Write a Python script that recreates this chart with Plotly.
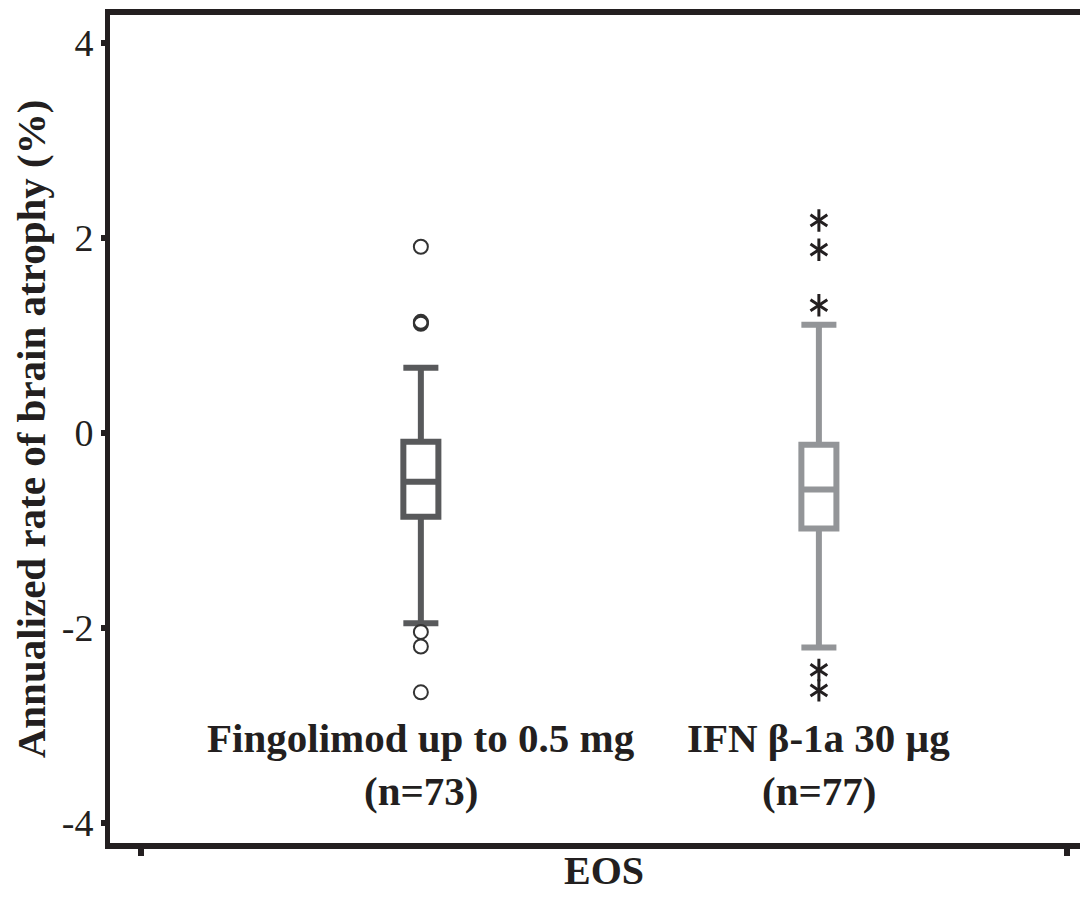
import plotly.graph_objects as go

# ---- data ----
categories = ["Fingolimod up to 0.5 mg", "IFN β-1a 30 µg"]
n_labels = ["(n=73)", "(n=77)"]

fingo_q1 = [-0.86]
fingo_median = [-0.50]
fingo_q3 = [-0.09]
fingo_lower = [-1.95]
fingo_upper = [0.67]
fingo_outliers = [1.91, 1.12, 1.13, 1.14, -2.04, -2.19, -2.66]

ifn_q1 = [-0.98]
ifn_median = [-0.58]
ifn_q3 = [-0.12]
ifn_lower = [-2.20]
ifn_upper = [1.11]
ifn_outliers = [2.18, 1.88, 1.31, -2.43, -2.64]

y_ticks = [-4, -2, 0, 2, 4]
y_tick_labels = ["-4", "-2", "0", "2", "4"]
x_axis_label = "EOS"
y_axis_label = "Annualized rate of brain atrophy (%)"

# ---- styling ----
DARK = "#231f20"
C1 = "#58595b"
C2 = "#939598"
FONT = "Liberation Serif"
X_RANGE = [-0.781, 1.656]
Y_RANGE = [-4.205, 4.287]
X_TICK_POS = [-0.7035, 1.623]
NAME_Y = -3.13
N_Y = -3.67

fig = go.Figure()

fig.add_trace(go.Box(
    x=[categories[0]], q1=fingo_q1, median=fingo_median, q3=fingo_q3,
    lowerfence=fingo_lower, upperfence=fingo_upper,
    width=0.088, whiskerwidth=1, fillcolor="white",
    line=dict(color=C1, width=6), boxpoints=False, showlegend=False,
))
fig.add_trace(go.Box(
    x=[categories[1]], q1=ifn_q1, median=ifn_median, q3=ifn_q3,
    lowerfence=ifn_lower, upperfence=ifn_upper,
    width=0.088, whiskerwidth=1, fillcolor="white",
    line=dict(color=C2, width=6), boxpoints=False, showlegend=False,
))

# outliers drawn on the overlaid top axis (same categories and range)
fig.add_trace(go.Scatter(
    x=[categories[0]] * len(fingo_outliers), y=fingo_outliers, mode="markers",
    xaxis="x2", yaxis="y",
    marker=dict(symbol="circle-open", size=14, color="#333333", line=dict(width=2, color="#333333")),
    showlegend=False,
))
for sym in ["y-up-open", "y-down-open"]:
    fig.add_trace(go.Scatter(
        x=[categories[1]] * len(ifn_outliers), y=ifn_outliers, mode="markers",
        xaxis="x2", yaxis="y",
        marker=dict(symbol=sym, size=14, color=DARK, line=dict(width=3, color=DARK)),
        showlegend=False,
    ))

for cat, n in zip(categories, n_labels):
    fig.add_annotation(
        x=cat, y=NAME_Y, xref="x", yref="y", text=cat, showarrow=False,
        yanchor="middle", xanchor="center",
        font=dict(family=FONT, size=41, color=DARK, weight="bold"),
    )
    fig.add_annotation(
        x=cat, y=N_Y, xref="x", yref="y", text=n, showarrow=False,
        yanchor="middle", xanchor="center",
        font=dict(family=FONT, size=41, color=DARK, weight="bold"),
    )

fig.add_annotation(
    x=(604 - 110) / 970, y=-(871 - 843) / 828, xref="paper", yref="paper",
    text=x_axis_label, showarrow=False, xanchor="center", yanchor="middle",
    font=dict(family=FONT, size=40, color=DARK, weight="bold"),
)

fig.update_layout(
    width=1072, height=881,
    margin=dict(l=102, r=0, t=7, b=46),
    paper_bgcolor="white", plot_bgcolor="white",
    font=dict(family=FONT, color=DARK),
    xaxis=dict(
        type="category", categoryorder="array", categoryarray=categories,
        range=X_RANGE, showline=True, linewidth=6, linecolor=DARK, mirror=False,
        tickmode="array", tickvals=X_TICK_POS, ticktext=["", ""],
        ticks="outside", ticklen=7, tickwidth=6, tickcolor=DARK,
        showgrid=False, zeroline=False,
    ),
    xaxis2=dict(
        type="category", categoryorder="array", categoryarray=categories,
        overlaying="x", anchor="y", side="top", range=X_RANGE,
        showline=True, linewidth=6, linecolor=DARK, mirror=False,
        ticks="", showticklabels=False, showgrid=False, zeroline=False,
    ),
    yaxis=dict(
        range=Y_RANGE, tickmode="array", tickvals=y_ticks, ticktext=y_tick_labels,
        ticks="outside", ticklen=4, tickwidth=6, tickcolor=DARK,
        showline=True, linewidth=5, linecolor=DARK, mirror=False,
        showgrid=False, zeroline=False,
        tickfont=dict(family=FONT, size=38, color=DARK),
        title=dict(text=y_axis_label, standoff=12,
                   font=dict(family=FONT, size=41, color=DARK, weight="bold")),
    ),
)

fig.write_html("out.html")
